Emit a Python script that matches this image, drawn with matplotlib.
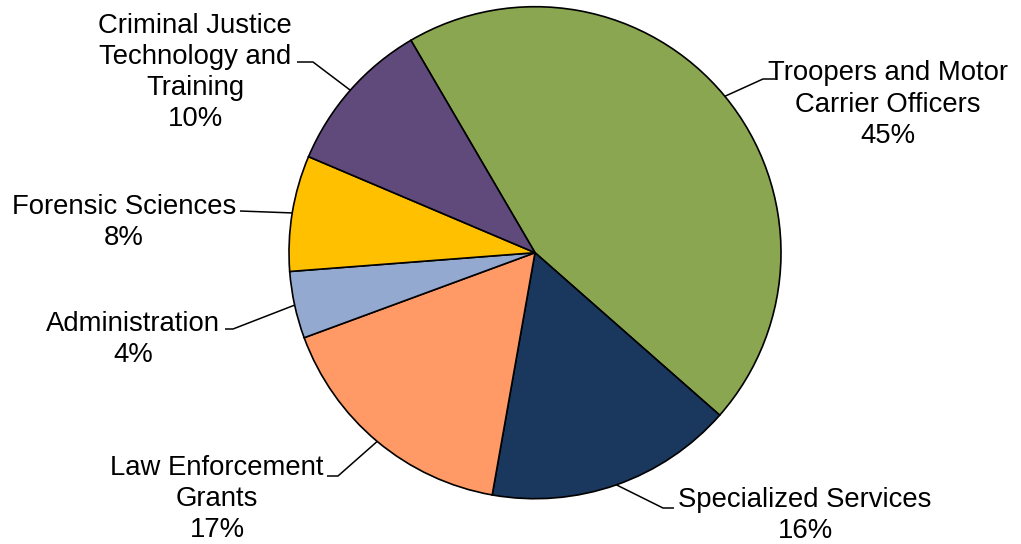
import matplotlib.pyplot as plt
import numpy as np

# Budget shares by program (percent)
categories = [
    "Troopers and Motor\nCarrier Officers",
    "Specialized Services",
    "Law Enforcement\nGrants",
    "Administration",
    "Forensic Sciences",
    "Criminal Justice\nTechnology and\nTraining",
]
shares = [44.9, 16.3, 16.6, 4.4, 7.6, 10.2]
colors = ["#8AA650", "#1A375E", "#FF9966", "#94A9CF", "#FFC000", "#604A7B"]

# Label placement (pixel coordinates, origin top-left): text centre, leader elbow(s)
label_pos = [(888, 104.5), (805, 515.5), (217, 499.0), (133, 339.5), (124, 222.5), (195, 72.5)]
leader_pts = [
    [(763, 79), (775, 79)],
    [(663, 508), (674, 508)],
    [(338, 476), (327, 476)],
    [(233, 329), (225, 329)],
    [(240, 211)],
    [(313, 62), (297, 62)],
]

W, H = 1021, 544
plt.rcParams["font.family"] = ["Liberation Sans", "DejaVu Sans"]
fig = plt.figure(figsize=(W / 100, H / 100), dpi=100)
ax = fig.add_axes([0, 0, 1, 1])

cx, cy, r = 535.0, 252.7, 246.0
wedges, _ = ax.pie(
    shares,
    colors=colors,
    startangle=120.3,
    counterclock=False,
    center=(cx, H - cy),
    radius=r,
    wedgeprops=dict(edgecolor="black", linewidth=1.2),
)
ax.set_xlim(0, W)
ax.set_ylim(0, H)
ax.set_aspect("equal")
ax.axis("off")

for w, name, val, (tx, ty), pts in zip(wedges, categories, shares, label_pos, leader_pts):
    mid = np.deg2rad((w.theta1 + w.theta2) / 2)
    ex = cx + r * np.cos(mid)
    ey = H - cy + r * np.sin(mid)
    xs = [ex] + [p[0] for p in pts]
    ys = [ey] + [H - p[1] for p in pts]
    ax.plot(xs, ys, color="black", lw=1.1, solid_capstyle="butt", zorder=1)
    ax.text(tx, H - ty, f"{name}\n{round(val):d}%", ha="center", va="center",
            fontsize=19.8, linespacing=1.26, color="black")

fig.savefig("out.png", dpi=100)
